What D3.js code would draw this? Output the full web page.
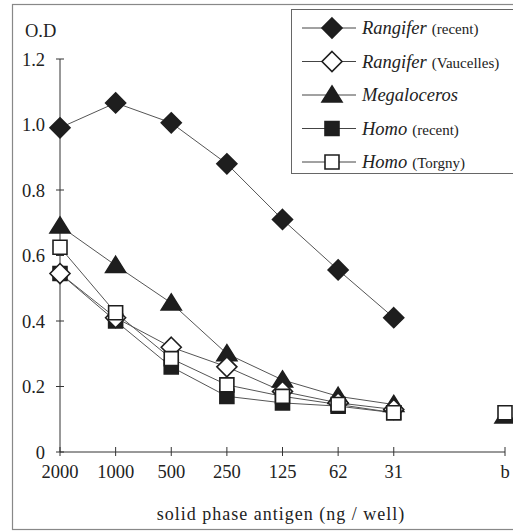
<!DOCTYPE html>
<html><head><meta charset="utf-8">
<script src="https://cdn.jsdelivr.net/npm/d3@7"></script>
</head>
<body style="margin:0;padding:0;background:#fff;"><svg id="c" width="513" height="532" style="display:block"></svg>
<script>
const categories = ["2000","1000","500","250","125","62","31","b"];
const yTicks = [0, 0.2, 0.4, 0.6, 0.8, 1.0, 1.2];
const yTickLabels = ["0","0.2","0.4","0.6","0.8","1.0","1.2"];
const rangiferRecent    = [0.99, 1.066, 1.005, 0.88, 0.71, 0.556, 0.41, null];
const rangiferVaucelles = [0.545, 0.41, 0.32, 0.26, 0.185, 0.15, 0.13, null];
const megaloceros       = [0.69, 0.57, 0.455, 0.30, 0.22, 0.17, 0.145, 0.11];
const homoRecent        = [0.545, 0.40, 0.26, 0.17, 0.15, 0.14, 0.12, null];
const homoTorgny        = [0.625, 0.425, 0.285, 0.205, 0.17, 0.145, 0.12, 0.12];
const seriesNames = ["Rangifer","Rangifer","Megaloceros","Homo","Homo"];
const seriesNotes = ["(recent)","(Vaucelles)","","(recent)","(Torgny)"];

const series = [
  {name:seriesNames[0], note:seriesNotes[0], values:rangiferRecent, shape:"diamond", fill:"#1e1e1e"},
  {name:seriesNames[1], note:seriesNotes[1], values:rangiferVaucelles, shape:"diamond", fill:"#fff"},
  {name:seriesNames[2], note:seriesNotes[2], values:megaloceros, shape:"triangle", fill:"#1e1e1e"},
  {name:seriesNames[3], note:seriesNotes[3], values:homoRecent, shape:"square", fill:"#1e1e1e"},
  {name:seriesNames[4], note:seriesNotes[4], values:homoTorgny, shape:"square", fill:"#fff"}
];
const drawOrder = [0, 2, 3, 1, 4];
const FONT = "Liberation Serif";

const svg = d3.select("#c");
svg.append("rect").attr("x",12.5).attr("y",4.5).attr("width",520).attr("height",525)
  .attr("fill","none").attr("stroke","#888").attr("stroke-width",1.2);

const domainX = categories.slice(0,7).concat(["_gap"], categories.slice(7));
const x = d3.scalePoint().domain(domainX).range([60, 505]);
const y = d3.scaleLinear().domain([0, 1.2]).range([452, 59]);

const ink = "#333";
const gy = svg.append("g");
gy.append("path").attr("d", `M60,${y(0)}V${y(1.2)}`).attr("stroke",ink).attr("fill","none");
yTicks.forEach((t,i)=>{
  gy.append("line").attr("x1",56).attr("x2",64).attr("y1",y(t)).attr("y2",y(t)).attr("stroke",ink);
  gy.append("text").attr("x",45).attr("y",y(t)+6.5).attr("text-anchor","end")
    .attr("font-family",FONT).attr("font-size",18.5).attr("fill","#222").text(yTickLabels[i]);
});
const gx = svg.append("g");
gx.append("path").attr("d", `M${x(categories[0])},${y(0)}H${x("b")}`).attr("stroke",ink).attr("fill","none");
categories.forEach(c=>{
  gx.append("line").attr("x1",x(c)).attr("x2",x(c)).attr("y1",y(0)-5).attr("y2",y(0)+4).attr("stroke",ink);
  gx.append("text").attr("x",x(c)).attr("y",y(0)+26).attr("text-anchor","middle")
    .attr("font-family",FONT).attr("font-size",18.5).attr("fill","#222").text(c);
});

svg.append("text").attr("x",25).attr("y",37).attr("font-family",FONT).attr("font-size",18.5).attr("fill","#222").text("O.D");
svg.append("text").attr("x",281).attr("y",520).attr("text-anchor","middle").attr("font-family",FONT).attr("font-size",18)
  .attr("letter-spacing",1).attr("fill","#222").text("solid phase antigen (ng / well)");

const shapes = {
  diamond: "M0,-10L10,0L0,10L-10,0Z",
  triangle: "M0,-9L10,7L-10,7Z",
  square: "M-7,-7H7V7H-7Z"
};
function marker(g, s, cx, cy){
  g.append("path").attr("d", shapes[s.shape]).attr("transform",`translate(${cx},${cy})`)
    .attr("fill", s.fill).attr("stroke","#1e1e1e").attr("stroke-width",1.6)
    .attr("stroke-linejoin","miter");
}

const line = d3.line().defined(d=>d.v!=null).x(d=>x(d.c)).y(d=>y(d.v));
drawOrder.forEach(k=>{
  const s = series[k];
  const pts = s.values.slice(0,7).map((v,i)=>({c:categories[i], v}));
  svg.append("path").attr("d", line(pts)).attr("fill","none").attr("stroke","#555").attr("stroke-width",1);
});
drawOrder.forEach(k=>{
  const s = series[k];
  const g = svg.append("g");
  s.values.forEach((v,i)=>{ if(v!=null) marker(g, s, x(categories[i]), y(v)); });
});

const lg = svg.append("g");
lg.append("rect").attr("x",291.5).attr("y",9.5).attr("width",240).attr("height",164)
  .attr("fill","#fff").attr("stroke","#666").attr("stroke-width",1);
series.forEach((s,i)=>{
  const ly = 28 + i*33.5;
  lg.append("line").attr("x1",302).attr("x2",356).attr("y1",ly).attr("y2",ly).attr("stroke","#444");
  marker(lg, s, 332, ly);
  const t = lg.append("text").attr("x",362).attr("y",ly+6).attr("font-family",FONT).attr("fill","#222");
  t.append("tspan").attr("font-family",FONT).attr("font-style","italic").attr("font-size",18.5).text(s.name);
  if (s.note) t.append("tspan").attr("font-family",FONT).attr("font-size",15).attr("dx",5).text(s.note);
});
</script></body></html>
